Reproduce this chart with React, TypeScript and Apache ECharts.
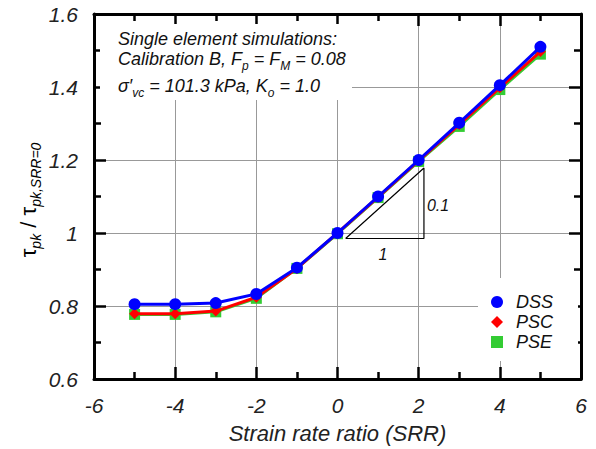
import React, { useEffect, useRef } from 'react';
import * as echarts from 'echarts';

const srr = [-5, -4, -3, -2, -1, 0, 1, 2, 3, 4, 5];
const dss = [0.805, 0.805, 0.808, 0.833, 0.905, 1.0, 1.1, 1.2, 1.302, 1.405, 1.51];
const psc = [0.779, 0.779, 0.786, 0.824, 0.903, 1.0, 1.098, 1.198, 1.297, 1.398, 1.497];
const pse = [0.777, 0.777, 0.784, 0.821, 0.903, 0.998, 1.097, 1.196, 1.292, 1.393, 1.49];
const triX = [0.2, 2.13, 2.13, 0.2];
const triY = [0.985, 0.985, 1.178, 0.985];
const xTicks = { min: -6, max: 6, interval: 2 };
const yTicks = { min: 0.6, max: 1.6, interval: 0.2 };

const FONT = '"Liberation Sans", Arial, sans-serif';

const pairs = (xs: number[], ys: number[]) => xs.map((x, i) => [x, ys[i]]);

export default function App() {
  const ref = useRef<HTMLDivElement>(null);
  useEffect(() => {
    if (!ref.current) return;
    const chart = echarts.init(ref.current, undefined, { renderer: 'svg' });
    const axisLine = { show: true, onZero: false, lineStyle: { color: '#000', width: 3 } };
    const axisTick = { show: true, inside: true, length: 12, lineStyle: { color: '#000', width: 2.5 } };
    const minorTick = { show: true, splitNumber: 2, length: 7, lineStyle: { color: '#000', width: 2.5 } };
    const labelStyle = { fontSize: 21, fontStyle: 'italic', color: '#222', fontFamily: FONT };
    const rich = {
      n: { fontSize: 18, fontStyle: 'italic', fontFamily: FONT, color: '#111', lineHeight: 26, verticalAlign: 'middle' },
      s: { fontSize: 12, fontStyle: 'italic', fontFamily: FONT, color: '#111', lineHeight: 12, verticalAlign: 'bottom' },
    };
    const yrich = {
      n: { fontSize: 22, fontFamily: FONT, color: '#222', lineHeight: 30, verticalAlign: 'middle' },
      s: { fontSize: 14, fontStyle: 'italic', fontFamily: FONT, color: '#222', lineHeight: 14, verticalAlign: 'bottom' },
    };
    chart.setOption({
      animation: false,
      grid: { left: 94, right: 15, top: 14, bottom: 70 },
      xAxis: [
        {
          type: 'value', ...xTicks, position: 'bottom',
          axisLine, axisTick, minorTick,
          splitLine: { show: true, lineStyle: { color: '#999', width: 1 } },
          axisLabel: { ...labelStyle, margin: 16 },
          name: 'Strain rate ratio (SRR)', nameLocation: 'middle', nameGap: 43,
          nameTextStyle: { fontSize: 22, fontStyle: 'italic', color: '#222', fontFamily: FONT },
        },
        {
          type: 'value', ...xTicks, position: 'top',
          axisLine, axisTick, minorTick,
          splitLine: { show: false }, axisLabel: { show: false },
        },
      ],
      yAxis: [
        {
          type: 'value', ...yTicks, position: 'left',
          axisLine, axisTick, minorTick,
          splitLine: { show: true, lineStyle: { color: '#999', width: 1 } },
          axisLabel: { ...labelStyle, margin: 16 },
        },
        {
          type: 'value', ...yTicks, position: 'right',
          axisLine, axisTick, minorTick,
          splitLine: { show: false }, axisLabel: { show: false },
        },
      ],
      legend: {
        orient: 'vertical', left: 478, top: 278,
        padding: [15, 25, 10, 13], itemGap: 2, itemWidth: 12, itemHeight: 12,
        backgroundColor: '#fff',
        textStyle: { fontSize: 18, fontStyle: 'italic', color: '#111', fontFamily: FONT, padding: [0, 0, 0, 8] },
        data: [
          { name: 'DSS', icon: 'circle' },
          { name: 'PSC', icon: 'diamond' },
          { name: 'PSE', icon: 'rect' },
        ],
      },
      series: [
        {
          type: 'line', name: 'slope', data: pairs(triX, triY), showSymbol: false, symbol: 'none',
          lineStyle: { color: '#000', width: 1.2 }, z: 1, silent: true,
        },
        {
          type: 'line', name: 'PSE', data: pairs(srr, pse), symbol: 'rect', symbolSize: 11,
          itemStyle: { color: '#33cc33' }, lineStyle: { color: '#33cc33', width: 3 }, z: 2,
        },
        {
          type: 'line', name: 'PSC', data: pairs(srr, psc), symbol: 'diamond', symbolSize: 11,
          itemStyle: { color: '#ff0000' }, lineStyle: { color: '#ff0000', width: 3 }, z: 3,
        },
        {
          type: 'line', name: 'DSS', data: pairs(srr, dss), symbol: 'circle', symbolSize: 12,
          itemStyle: { color: '#0000ff' }, lineStyle: { color: '#0000ff', width: 3 }, z: 4,
        },
      ],
      graphic: [
        { type: 'rect', shape: { x: 100, y: 24, width: 252, height: 76 }, style: { fill: '#fff' }, z: 50, silent: true },
        {
          type: 'text', x: 118, y: 26, z: 51,
          style: { text: '{n|Single element simulations:}', rich, fill: '#111' },
        },
        {
          type: 'text', x: 118, y: 46, z: 51,
          style: { text: '{n|Calibration B, F}{s|p}{n| = F}{s|M}{n| = 0.08}', rich, fill: '#111' },
        },
        {
          type: 'text', x: 118, y: 73, z: 51,
          style: { text: '{n|σ′}{s|vc}{n| = 101.3 kPa, K}{s|o}{n| = 1.0}', rich, fill: '#111' },
        },
        {
          type: 'text', x: 28, y: 200, rotation: Math.PI / 2, z: 51,
          style: { text: '{n|τ}{s|pk}{n| / τ}{s|pk,SRR=0}', rich: yrich, align: 'center', verticalAlign: 'middle' },
        },
        {
          type: 'text', x: 383, y: 254, z: 51,
          style: { text: '1', fontSize: 16, fontStyle: 'italic', fontFamily: FONT, fill: '#111', align: 'center', verticalAlign: 'middle' },
        },
        {
          type: 'text', x: 438, y: 205, z: 51,
          style: { text: '0.1', fontSize: 16, fontStyle: 'italic', fontFamily: FONT, fill: '#111', align: 'center', verticalAlign: 'middle' },
        },
      ],
    });
    return () => chart.dispose();
  }, []);
  return <div ref={ref} style={{ width: 596, height: 449, position: 'absolute', left: 0, top: 0 }} />;
}
